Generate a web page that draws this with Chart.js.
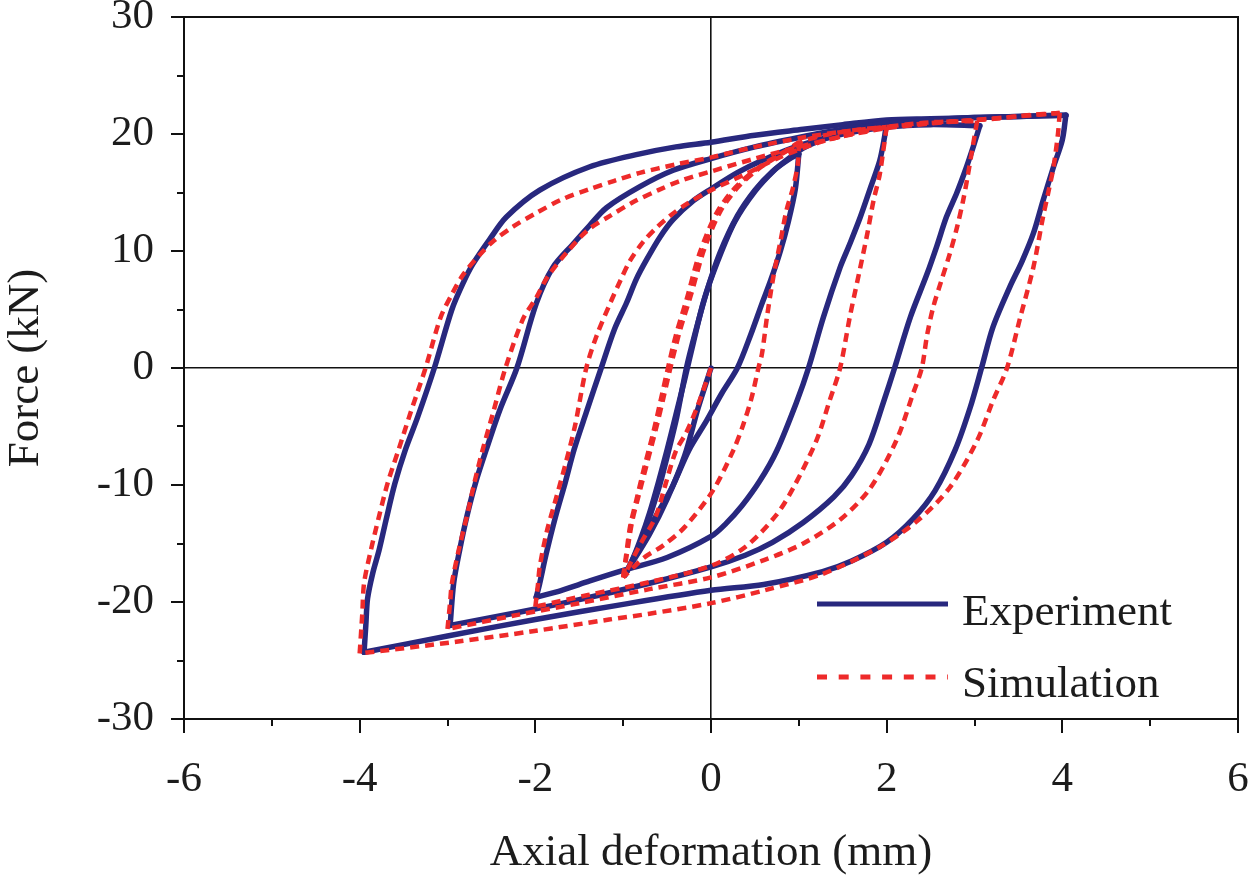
<!DOCTYPE html>
<html>
<head>
<meta charset="utf-8">
<script src="https://cdn.jsdelivr.net/npm/chart.js@4.4.1/dist/chart.umd.min.js"></script>
<style>
  html, body { margin: 0; padding: 0; background: #ffffff; }
  #wrap { width: 1250px; height: 878px; position: relative; }
</style>
</head>
<body>
<div id="wrap"><canvas id="c"></canvas></div>
<script>
// ---- Axis ranges / ticks ----
const xRange = [-6, 6];
const yRange = [-30, 30];
const xMajorStep = 2, xMinorStep = 1;
const yMajorStep = 10, yMinorStep = 5;

// ---- Experiment branches [deformation mm, force kN] ----
const expVirgin = [[0,0],[-0.15,-3.5],[-0.3,-7.5],[-0.5,-11.2],[-0.7,-14.2],[-0.96,-17.4]];
const expL1Reload = [[-0.96,-17.4],[-0.87,-16.0],[-0.78,-14.5],[-0.68,-12.3],[-0.58,-9.9],[-0.48,-7.0],[-0.39,-4.2],[-0.28,0],[-0.18,3.0],[-0.05,6.5],[0.1,9.8],[0.3,13.0],[0.5,15.2],[0.7,16.8],[0.88,17.8],[1.0,18.3]];
const expL1Unload = [[1.0,18.3],[0.96,15.3],[0.88,12.5],[0.79,10.0],[0.68,7.5],[0.58,5.5],[0.45,2.8],[0.3,0],[0.12,-2.2],[-0.05,-4.5],[-0.25,-7.0],[-0.45,-10.3],[-0.63,-12.7],[-0.8,-15.2],[-0.98,-17.7]];
const expL1Reload2 = [[-0.98,-17.7],[-0.9,-16.5],[-0.8,-14.6],[-0.7,-12.4],[-0.6,-9.8],[-0.5,-7.0],[-0.4,-4.0],[-0.3,-1.0],[-0.2,2.2],[-0.08,5.8],[0.08,9.2],[0.27,12.5],[0.5,15.1],[0.72,16.9],[0.9,18.0],[1.05,18.8],[1.3,19.6],[1.6,20.3],[2.0,21.0]];
const expL2Unload = [[2.0,21.0],[1.97,19.5],[1.92,17.7],[1.82,15.5],[1.7,12.9],[1.58,10.6],[1.47,8.6],[1.28,4.35],[1.11,0],[0.98,-2.8],[0.75,-7.05],[0.56,-9.6],[0.35,-11.8],[0.17,-13.3],[0,-14.4],[-0.5,-16.2],[-1.0,-17.3],[-1.38,-18.2],[-1.7,-19.0],[-1.99,-19.6]];
const expL2Reload = [[-1.99,-19.6],[-1.95,-18.4],[-1.88,-16.0],[-1.77,-12.7],[-1.66,-9.8],[-1.56,-7.0],[-1.42,-3.8],[-1.25,0],[-1.1,3.3],[-0.96,5.6],[-0.85,7.6],[-0.73,9.3],[-0.58,11.2],[-0.43,12.7],[-0.2,14.3],[0,15.3],[0.3,16.7],[0.6,17.8],[1.0,19.0],[1.5,20.0],[2.0,20.6],[2.5,20.8],[3.06,20.7]];
const expL3Unload = [[3.06,20.7],[2.99,19.0],[2.91,17.2],[2.8,15.0],[2.68,12.9],[2.57,10.4],[2.46,8.05],[2.27,4.35],[2.09,0],[1.96,-3.0],[1.8,-6.5],[1.6,-9.2],[1.4,-11.0],[1.05,-13.2],[0.7,-14.9],[0.39,-16.0],[0,-17.0],[-0.7,-18.4],[-1.5,-19.8],[-2.2,-20.9],[-2.97,-22.0]];
const expL3Reload = [[-2.97,-22.0],[-2.93,-18.4],[-2.86,-15.5],[-2.78,-12.7],[-2.68,-9.8],[-2.56,-7.0],[-2.4,-3.5],[-2.21,0],[-1.99,5.5],[-1.8,8.6],[-1.57,10.6],[-1.38,12.2],[-1.19,13.7],[-0.81,15.5],[-0.43,16.9],[0,17.9],[0.5,18.9],[1.0,19.7],[1.5,20.4],[2.0,20.9],[2.5,21.2],[3.0,21.4],[3.5,21.5],[4.04,21.6]];
const expL4Unload = [[4.04,21.6],[4.0,19.5],[3.9,17.2],[3.78,14.3],[3.67,11.5],[3.54,9.1],[3.4,6.9],[3.21,3.5],[3.08,0],[2.95,-3.4],[2.78,-7.0],[2.55,-10.5],[2.3,-12.9],[2.0,-14.9],[1.6,-16.5],[1.27,-17.4],[0.6,-18.5],[0,-19.0],[-1.0,-20.2],[-2.0,-21.5],[-3.0,-22.9],[-3.95,-24.3]];
const expL4Reload = [[-3.95,-24.3],[-3.93,-22.0],[-3.91,-19.7],[-3.85,-17.5],[-3.78,-15.6],[-3.7,-13.0],[-3.6,-9.9],[-3.48,-7.0],[-3.34,-4.2],[-3.15,0],[-2.95,5.0],[-2.82,7.3],[-2.71,8.9],[-2.52,11.0],[-2.33,12.9],[-1.95,15.2],[-1.38,17.2],[-0.81,18.3],[-0.4,18.9],[0,19.3],[0.5,19.9],[1.05,20.4],[1.5,20.8],[2.0,21.2],[2.5,21.3],[3.0,21.4],[3.5,21.5],[4.04,21.6]];

// ---- Simulation branches ----
const simVirgin = [[0,0],[-0.15,-3.2],[-0.28,-5.5],[-0.4,-7.1],[-0.52,-10.0],[-0.63,-12.7],[-0.8,-15.0],[-1.0,-17.9]];
const simL1Reload = [[-1.0,-17.9],[-0.97,-16.2],[-0.92,-13.5],[-0.85,-11.3],[-0.76,-8.5],[-0.66,-5.6],[-0.58,-3.0],[-0.49,0],[-0.4,2.8],[-0.28,5.8],[-0.13,9.8],[0.06,13.2],[0.25,15.2],[0.48,16.8],[0.7,17.9],[0.86,18.6],[1.0,19.3]];
const simL1Unload = [[1.0,19.3],[0.99,17.5],[0.93,15.3],[0.86,13.5],[0.79,10.8],[0.71,7.8],[0.64,4.5],[0.58,1.2],[0.54,0],[0.46,-2.6],[0.36,-5.0],[0.25,-7.1],[0.02,-10.5],[-0.3,-13.6],[-0.55,-15.2],[-0.76,-16.2],[-1.0,-17.9]];
const simL1Reload2 = [[-1.0,-17.9],[-0.96,-16.0],[-0.9,-13.2],[-0.82,-10.8],[-0.72,-7.9],[-0.62,-5.0],[-0.54,-2.5],[-0.45,0.4],[-0.35,3.3],[-0.23,6.2],[-0.08,10.1],[0.1,13.3],[0.3,15.4],[0.52,16.9],[0.74,18.0],[0.9,18.7],[1.05,19.4],[1.3,19.9],[1.6,20.3],[2.0,20.6]];
const simL2Unload = [[2.0,20.6],[1.96,18.5],[1.92,16.5],[1.85,14.3],[1.78,11.5],[1.7,8.6],[1.58,4.35],[1.47,0],[1.35,-2.8],[1.2,-6.2],[0.94,-10.2],[0.74,-12.6],[0.39,-15.3],[0,-16.9],[-0.7,-18.3],[-1.4,-19.4],[-2.0,-20.4]];
const simL2Reload = [[-2.0,-20.4],[-1.97,-18.5],[-1.95,-17.0],[-1.87,-14.0],[-1.77,-11.3],[-1.66,-8.3],[-1.55,-5.0],[-1.42,0],[-1.3,2.8],[-1.15,5.5],[-1.03,7.5],[-0.92,9.2],[-0.77,10.8],[-0.62,12.0],[-0.45,13.1],[-0.28,14.0],[0,15.2],[0.4,16.6],[0.78,18.0],[1.2,19.2],[1.6,20.0],[2.0,20.6],[2.5,21.0],[3.03,21.1]];
const simL3Unload = [[3.03,21.1],[2.97,18.5],[2.92,16.3],[2.87,14.3],[2.8,12.0],[2.72,9.8],[2.62,7.4],[2.53,5.2],[2.46,2.8],[2.4,0],[2.3,-2.2],[2.11,-6.2],[1.81,-10.3],[1.48,-12.9],[1.05,-15.0],[0.61,-16.4],[0,-17.9],[-0.7,-18.9],[-1.5,-20.1],[-2.2,-21.1],[-3.0,-22.3]];
const simL3Reload = [[-3.0,-22.3],[-2.97,-20.0],[-2.95,-18.4],[-2.87,-15.5],[-2.78,-12.7],[-2.7,-10.0],[-2.6,-7.0],[-2.48,-3.8],[-2.34,0],[-2.14,4.2],[-1.99,6.0],[-1.86,7.8],[-1.64,9.9],[-1.4,11.8],[-1.15,13.0],[-0.88,14.2],[-0.6,15.2],[-0.35,16.0],[0,16.8],[0.5,17.9],[1.0,18.9],[1.5,19.8],[2.0,20.5],[2.5,20.9],[3.0,21.2],[3.5,21.5],[3.97,21.8]];
const simL4Unload = [[3.97,21.8],[3.95,20.0],[3.9,17.2],[3.84,15.0],[3.78,12.9],[3.67,8.6],[3.52,4.3],[3.37,0],[3.21,-2.8],[3.03,-6.2],[2.72,-10.2],[2.36,-13.0],[1.92,-15.3],[1.27,-17.6],[0.61,-19.0],[0,-20.1],[-0.7,-21.0],[-1.16,-21.5],[-2.03,-22.5],[-2.9,-23.4],[-4.0,-24.4]];
const simL4Reload = [[-4.0,-24.4],[-3.97,-21.0],[-3.95,-18.4],[-3.87,-15.5],[-3.78,-12.7],[-3.68,-9.8],[-3.56,-7.05],[-3.42,-3.8],[-3.25,0],[-3.08,4.3],[-2.95,6.3],[-2.82,8.0],[-2.63,9.7],[-2.47,10.9],[-2.25,12.1],[-2.0,13.2],[-1.7,14.4],[-1.38,15.3],[-1.1,16.0],[-0.8,16.7],[-0.4,17.4],[0,18.0],[0.5,18.9],[1.05,19.7],[1.5,20.2],[2.0,20.6],[2.6,21.0],[3.23,21.3],[3.6,21.6],[3.97,21.8]];

const seriesNames = ['Experiment', 'Simulation'];
const seriesColors = ['#28287e', '#ee2a2a'];

const expBranches = [expVirgin, expL1Reload, expL1Unload, expL1Reload2, expL2Unload, expL2Reload,
                     expL3Unload, expL3Reload, expL4Unload, expL4Reload];
const simBranches = [simVirgin, simL1Reload, simL1Unload, simL1Reload2, simL2Unload, simL2Reload,
                     simL3Unload, simL3Reload, simL4Unload, simL4Reload];

function toPoints(b) { return b.map(p => ({x: p[0], y: p[1]})); }

const datasets = [];
expBranches.forEach(b => datasets.push({
  label: seriesNames[0], data: toPoints(b), showLine: true, order: 1,
  borderColor: seriesColors[0], borderWidth: 5.5, pointRadius: 0, tension: 0.3,
  borderJoinStyle: 'round', borderCapStyle: 'round'
}));
simBranches.forEach(b => datasets.push({
  label: seriesNames[1], data: toPoints(b), showLine: true, order: 0,
  borderColor: seriesColors[1], borderWidth: 4.5, pointRadius: 0, tension: 0.3,
  borderDash: [9, 6], borderJoinStyle: 'round'
}));

const FONT = '"Liberation Serif", "Times New Roman", serif';

const frameAndTicks = {
  id: 'frameAndTicks',
  afterDraw(chart) {
    const {ctx, chartArea: a, scales: {x, y}} = chart;
    ctx.save();
    ctx.strokeStyle = '#111';
    ctx.lineWidth = 2;
    ctx.beginPath();
    ctx.moveTo(a.left - 1, a.top); ctx.lineTo(a.right, a.top); ctx.lineTo(a.right, a.bottom + 1);
    ctx.stroke();
    ctx.beginPath();
    for (let v = xRange[0]; v <= xRange[1] + 1e-9; v += xMinorStep) {
      const px = Math.round(x.getPixelForValue(v));
      const len = (Math.abs(v % xMajorStep) < 1e-9) ? 14 : 7;
      ctx.moveTo(px, a.bottom); ctx.lineTo(px, a.bottom + len);
    }
    for (let v = yRange[0]; v <= yRange[1] + 1e-9; v += yMinorStep) {
      const py = Math.round(y.getPixelForValue(v));
      const len = (Math.abs(v % yMajorStep) < 1e-9) ? 13 : 7;
      ctx.moveTo(a.left, py); ctx.lineTo(a.left - len, py);
    }
    ctx.stroke();

    // legend (inside plot, lower right)
    const lx0 = a.right - 421, lx1 = a.right - 290, tx = a.right - 276;
    const r1 = a.bottom - 115, r2 = a.bottom - 42;
    ctx.lineWidth = 5;
    ctx.strokeStyle = seriesColors[0];
    ctx.setLineDash([]);
    ctx.beginPath(); ctx.moveTo(lx0, r1); ctx.lineTo(lx1, r1); ctx.stroke();
    ctx.strokeStyle = seriesColors[1];
    ctx.setLineDash([10, 11.7]);
    ctx.beginPath(); ctx.moveTo(lx0, r2); ctx.lineTo(lx1, r2); ctx.stroke();
    ctx.setLineDash([]);
    ctx.fillStyle = '#1c1c1c';
    ctx.font = '45px ' + FONT;
    ctx.textAlign = 'left';
    ctx.textBaseline = 'alphabetic';
    ctx.fillText(seriesNames[0], tx, r1 + 21);
    ctx.fillText(seriesNames[1], tx, r2 + 20);
    ctx.restore();
  }
};

new Chart(document.getElementById('c'), {
  type: 'scatter',
  data: { datasets },
  options: {
    responsive: true,
    maintainAspectRatio: false,
    animation: false,
    layout: { padding: { left: 0, right: 12, top: 17, bottom: 0 } },
    plugins: { legend: { display: false }, tooltip: { enabled: false } },
    scales: {
      x: {
        type: 'linear', min: xRange[0], max: xRange[1],
        afterFit(s) { s.height = 159; s.paddingLeft = 0; s.paddingRight = 0; },
        ticks: {
          stepSize: xMajorStep, autoSkip: false, maxRotation: 0, padding: 35,
          color: '#1c1c1c', font: { family: FONT, size: 43 }
        },
        grid: {
          drawTicks: false, drawOnChartArea: true,
          color: c => (c.tick && c.tick.value === 0) ? '#111' : 'rgba(0,0,0,0)',
          lineWidth: 1.6
        },
        border: { display: true, color: '#111', width: 2 },
        title: {
          display: true, text: 'Axial deformation (mm)', color: '#1c1c1c',
          font: { family: FONT, size: 45, lineHeight: 1 }, padding: { top: 0, bottom: 2 }
        }
      },
      y: {
        type: 'linear', min: yRange[0], max: yRange[1],
        afterFit(s) { s.width = 184; s.paddingTop = 0; s.paddingBottom = 0; },
        ticks: {
          stepSize: yMajorStep, autoSkip: false, padding: 30,
          color: '#1c1c1c', font: { family: FONT, size: 43 }
        },
        grid: {
          drawTicks: false, drawOnChartArea: true,
          color: c => (c.tick && c.tick.value === 0) ? '#111' : 'rgba(0,0,0,0)',
          lineWidth: 1.6
        },
        border: { display: true, color: '#111', width: 2 },
        title: {
          display: true, text: 'Force (kN)', color: '#1c1c1c',
          font: { family: FONT, size: 45, lineHeight: 1 }, padding: { top: 4, bottom: 0 }
        }
      }
    }
  },
  plugins: [frameAndTicks]
});
</script>
</body>
</html>
